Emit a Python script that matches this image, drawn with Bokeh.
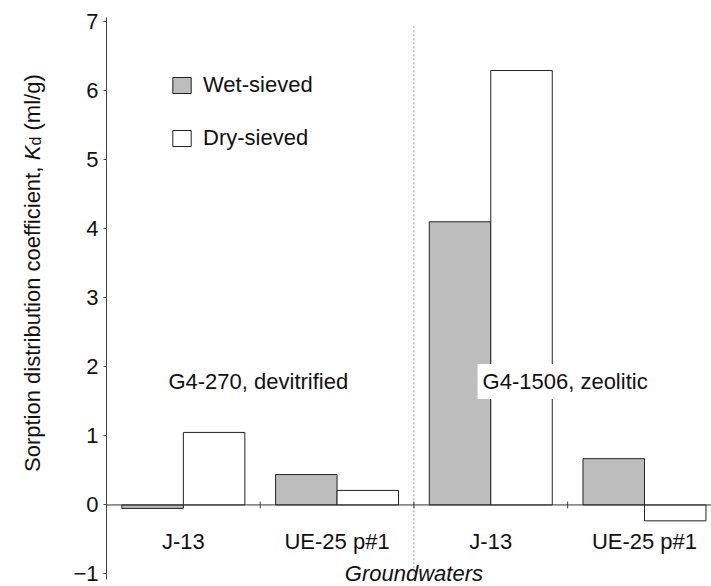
from bokeh.plotting import figure
from bokeh.layouts import row
from bokeh.models import ColumnDataSource, FixedTicker, Span, Label, Legend, LegendItem
from bokeh.transform import dodge
from bokeh.core.properties import value
from bokeh.embed import file_html
from bokeh.resources import INLINE

# ---- data ----
waters = ["J-13", "UE-25 p#1", "J-13", "UE-25 p#1"]
wet_sieved = [-0.05, 0.44, 4.10, 0.67]
dry_sieved = [1.05, 0.21, 6.29, -0.23]
groups = ["G4-270, devitrified", "G4-1506, zeolitic"]
series = ["Wet-sieved", "Dry-sieved"]
y_ticks = [-1, 0, 1, 2, 3, 4, 5, 6, 7]
x_title = "Groundwaters"
y_title_parts = ["Sorption distribution coefficient,", "K", "d", "(ml/g)"]

FONT = "Liberation Sans"
FS = "22px"
INK = "#111111"
Y_RANGE = (-1.181, 7.058)
H = 586
TOP = 17
TITLE_W = 50

xs = list(range(1, len(waters) + 1))
src = ColumnDataSource(dict(x=xs, wet=wet_sieved, dry=dry_sieved, name=waters))

p = figure(width=711 - TITLE_W, height=H, x_range=(0.5, 4.436), y_range=Y_RANGE,
           output_backend="svg", toolbar_location=None, x_axis_location=None,
           min_border_left=106 - TITLE_W, min_border_right=0, min_border_top=TOP,
           min_border_bottom=0)
p.grid.visible = False
p.outline_line_color = None

# separator between the two rock groups
sep = (len(waters) + 1) / 2
p.segment(x0=[sep], y0=[-1.09], x1=[sep], y1=[6.957], line_color="#999999",
          line_dash="2 2", line_width=1)

wet_r = p.vbar(x=dodge("x", -0.2), top="wet", bottom=0, width=0.4, source=src,
               fill_color="#bdbdbd", line_color="#222222", line_width=1)
dry_r = p.vbar(x=dodge("x", 0.2), top="dry", bottom=0, width=0.4, source=src,
               fill_color="white", line_color="#222222", line_width=1)

p.add_layout(Span(location=0, dimension="width", line_color="#333333", line_width=1))

mids = [x + 0.5 for x in xs[:-1]]
p.segment(x0=mids, y0=[-0.05] * len(mids), x1=mids, y1=[0.05] * len(mids),
          line_color="#444444", line_width=1)

# category labels
p.text(x="x", y=-0.53, text="name", source=src, text_align="center",
       text_baseline="middle", text_font=value(FONT), text_font_size=FS,
       text_color=INK)

# group labels
p.add_layout(Label(x=0.903, y=1.787, text=groups[0], text_font=FONT, text_font_size=FS,
                   text_baseline="middle", text_color=INK))
p.add_layout(Label(x=2.914, y=1.787, text=groups[1], text_font=FONT, text_font_size=FS,
                   text_baseline="middle", text_color=INK,
                   background_fill_color="white", padding=5))

# x title
p.add_layout(Label(x=sep, y=-0.993, text=x_title, text_font=FONT, text_font_size=FS,
                   text_font_style="italic", text_align="center",
                   text_baseline="middle", text_color=INK))

# y axis
ax = p.yaxis[0]
ax.ticker = FixedTicker(ticks=y_ticks)
ax.bounds = (-1.08, Y_RANGE[1])
ax.major_label_overrides = {-1: "\u22121"}
ax.major_label_text_font = FONT
ax.major_label_text_font_size = FS
ax.major_label_text_color = INK
ax.minor_tick_line_color = None
ax.major_tick_in = 0
ax.major_tick_out = 3
ax.major_label_standoff = 5
ax.axis_line_color = "#444444"
ax.major_tick_line_color = "#444444"

legend = Legend(items=[LegendItem(label=series[0], renderers=[wet_r]),
                       LegendItem(label=series[1], renderers=[dry_r])],
                location=(64, 435), glyph_width=23, glyph_height=20,
                label_standoff=10, spacing=27, padding=0, margin=0,
                border_line_color=None, background_fill_alpha=0,
                label_text_font=FONT, label_text_font_size=FS, label_height=20,
                label_text_color=INK)
p.add_layout(legend)

# ---- rotated y title, drawn in a narrow companion figure ----
t = figure(width=TITLE_W, height=H, x_range=(0, TITLE_W), y_range=Y_RANGE,
           output_backend="svg", toolbar_location=None, x_axis_location=None,
           y_axis_location=None, min_border_left=0, min_border_right=0,
           min_border_top=TOP, min_border_bottom=0)
t.grid.visible = False
t.outline_line_color = None
ang = 1.5708
t.text(x=[32], y=[0.477], text=[y_title_parts[0]], angle=ang, text_font=value(FONT),
       text_font_size=FS, text_baseline="alphabetic", text_color=INK)
t.text(x=[32], y=[4.992], text=[y_title_parts[1]], angle=ang, text_font=value(FONT),
       text_font_size=FS, text_font_style="italic", text_baseline="alphabetic",
       text_color=INK)
t.text(x=[35], y=[5.205], text=[y_title_parts[2]], angle=ang, text_font=value(FONT),
       text_font_size="16px", text_baseline="alphabetic", text_color=INK)
t.text(x=[32], y=[5.422], text=[y_title_parts[3]], angle=ang, text_font=value(FONT),
       text_font_size=FS, text_baseline="alphabetic", text_color=INK)

layout = row(t, p)
open("out.html", "w").write(file_html(layout, INLINE))
